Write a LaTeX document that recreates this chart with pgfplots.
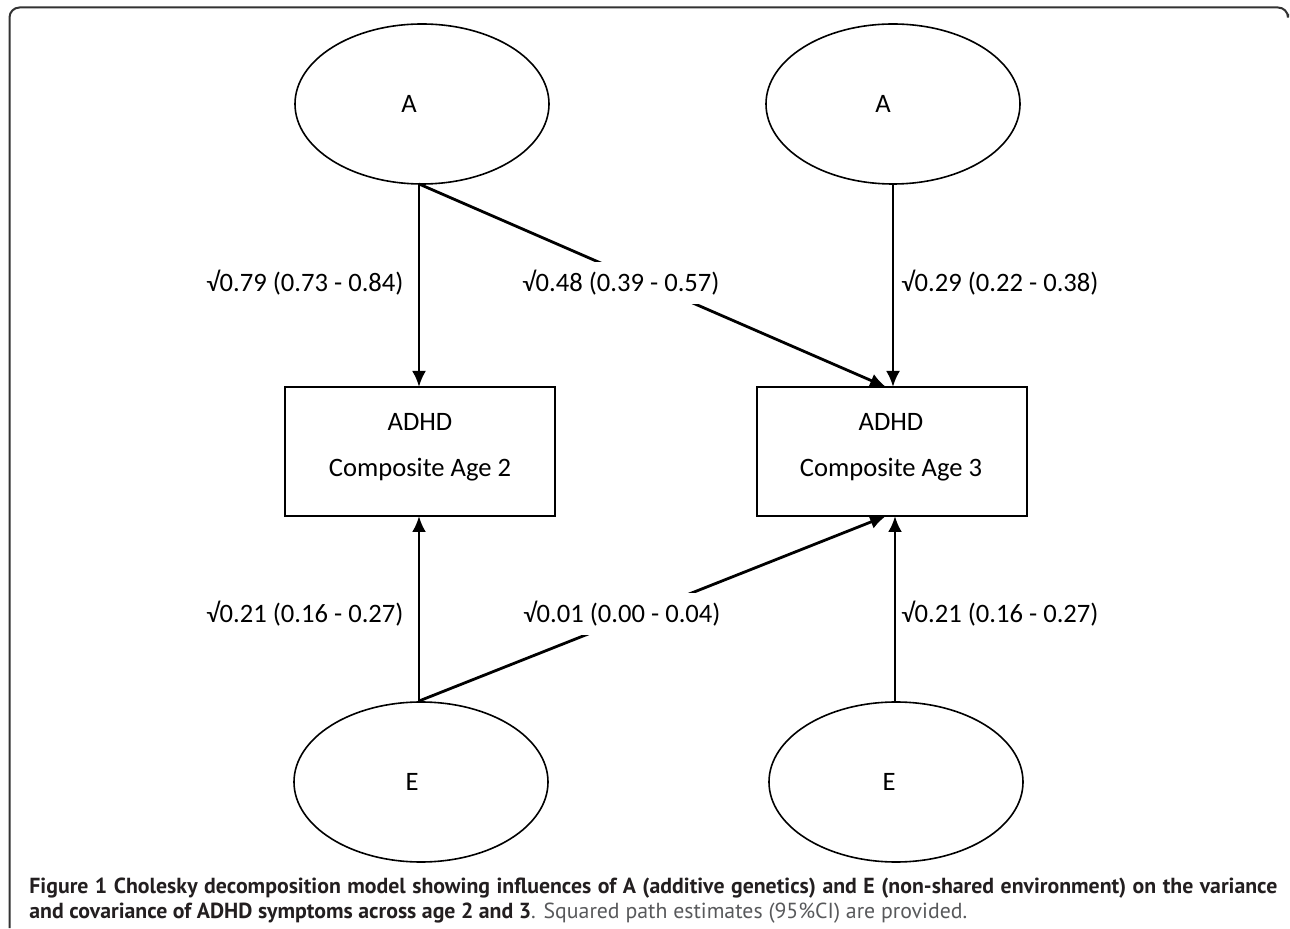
\documentclass[border=0pt]{standalone}
\usepackage{fontspec}
\setmainfont{Carlito}
\newfontfamily\capfont{PT Sans}
\usepackage{pgfplots}
\pgfplotsset{compat=1.18}
\usetikzlibrary{arrows.meta}
\definecolor{capdark}{HTML}{231F20}
\definecolor{capgray}{HTML}{58595B}
\begin{document}
\begin{tikzpicture}[lbl/.style={font=\fontsize{13.3}{16}\selectfont},
  pth/.style={lbl,fill=white,inner sep=4pt}]
\begin{axis}[width=645pt,height=464pt,scale only axis,
  xmin=0,xmax=1290,ymin=0,ymax=928,y dir=reverse,
  axis lines=none,ticks=none,clip=false]
\path (axis cs:0,0) rectangle (axis cs:1290,928);
% frame
\draw[line width=1pt,color=black!80,rounded corners=5pt]
  (axis cs:9.5,928) -- (axis cs:9.5,7.5) -- (axis cs:1288,7.5) -- (axis cs:1288,14);
% ellipses
\draw[line width=0.8pt] (axis cs:422,104) ellipse [x radius=63.5pt, y radius=40pt];
\draw[line width=0.8pt] (axis cs:893,104) ellipse [x radius=63.5pt, y radius=40pt];
\draw[line width=0.8pt] (axis cs:421,782) ellipse [x radius=63.5pt, y radius=40pt];
\draw[line width=0.8pt] (axis cs:896,782) ellipse [x radius=63.5pt, y radius=40pt];
% boxes
\draw[line width=0.9pt] (axis cs:285,387) rectangle (axis cs:555,516);
\draw[line width=0.9pt] (axis cs:757,387) rectangle (axis cs:1027,516);
% arrows
\addplot[black,line width=1.4pt,-{Latex[length=8pt,width=7pt]}] coordinates {(419,184) (419,387)};
\addplot[black,line width=1.4pt,-{Latex[length=8pt,width=7pt]}] coordinates {(893,184) (893,387)};
\addplot[black,line width=1.4pt,-{Latex[length=8pt,width=7pt]}] coordinates {(419,184) (886,387)};
\addplot[black,line width=1.4pt,-{Latex[length=8pt,width=7pt]}] coordinates {(419,701) (419,516)};
\addplot[black,line width=1.4pt,-{Latex[length=8pt,width=7pt]}] coordinates {(895,702) (895,516)};
\addplot[black,line width=1.4pt,-{Latex[length=8pt,width=7pt]}] coordinates {(419,701) (886,516)};
% texts
\node[lbl] at (axis cs:409,104) {A};
\node[lbl] at (axis cs:883,104) {A};
\node[lbl] at (axis cs:412,782) {E};
\node[lbl] at (axis cs:889,782) {E};
\node[lbl] at (axis cs:420,422) {ADHD};
\node[lbl] at (axis cs:420,470) {Composite Age 2};
\node[lbl] at (axis cs:891,422) {ADHD};
\node[lbl] at (axis cs:891,470) {Composite Age 3};
\node[lbl] at (axis cs:305,283) {√0.79 (0.73 - 0.84)};
\node[pth] at (axis cs:621,283) {√0.48 (0.39 - 0.57)};
\node[lbl] at (axis cs:1000,283) {√0.29 (0.22 - 0.38)};
\node[lbl] at (axis cs:305,614) {√0.21 (0.16 - 0.27)};
\node[pth] at (axis cs:622,614) {√0.01 (0.00 - 0.04)};
\node[lbl] at (axis cs:1000,614) {√0.21 (0.16 - 0.27)};
% caption
\node[anchor=base west,inner sep=0pt,text=capdark] at (axis cs:29,893)
  {\capfont\fontsize{10.9}{12}\selectfont\bfseries\makebox[624pt][s]{Figure 1 Cholesky decomposition model showing influences of A (additive genetics) and E (non-shared environment) on the variance}};
\node[anchor=base west,inner sep=0pt,text=capdark] at (axis cs:29,918)
  {\capfont\fontsize{10.9}{12}\selectfont\textbf{and covariance of ADHD symptoms across age 2 and 3}\textcolor{capgray}{. Squared path estimates (95\%CI) are provided.}};
\end{axis}
\end{tikzpicture}
\end{document}
